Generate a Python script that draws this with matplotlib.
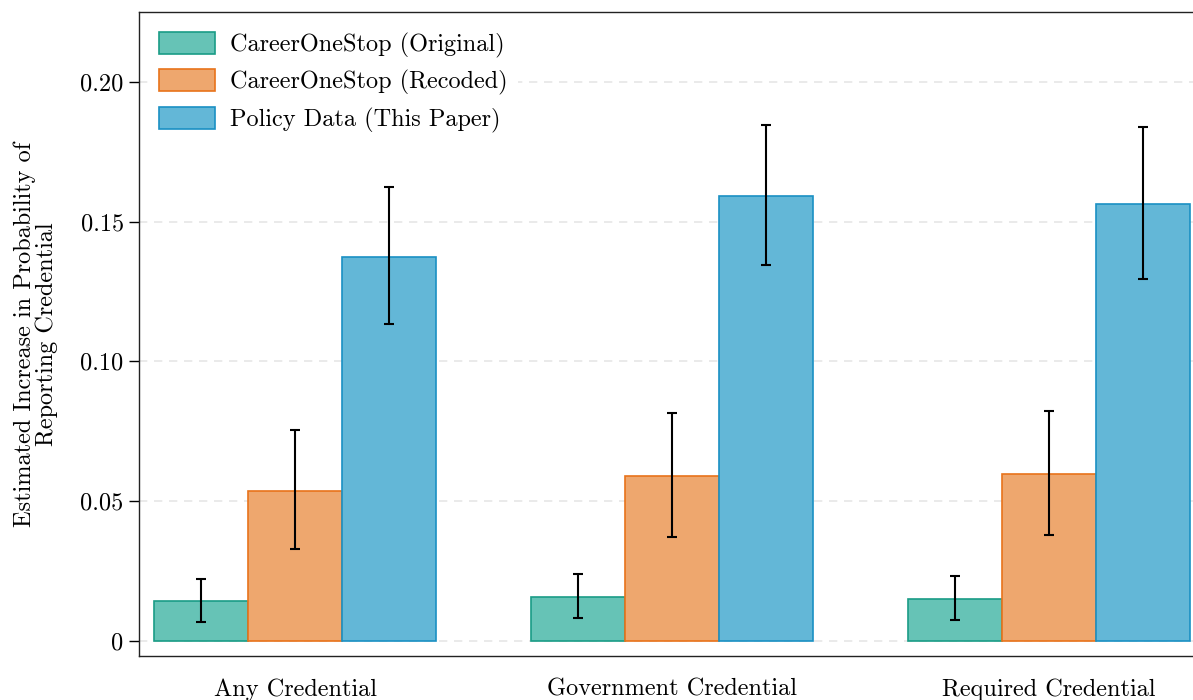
import matplotlib
matplotlib.use("Agg")
import matplotlib.pyplot as plt
import numpy as np

plt.rcParams['font.family'] = 'serif'
plt.rcParams['font.serif'] = ['cmr10', 'DejaVu Serif']
plt.rcParams['mathtext.fontset'] = 'cm'
plt.rcParams['axes.formatter.use_mathtext'] = True
plt.rcParams['axes.unicode_minus'] = False

categories = ["Any Credential", "Government Credential", "Required Credential"]
series_names = ["CareerOneStop (Original)", "CareerOneStop (Recoded)", "Policy Data (This Paper)"]

original = [0.0143, 0.0157, 0.0150]
original_lo = [0.0068, 0.0082, 0.0075]
original_hi = [0.0222, 0.0240, 0.0233]

recoded = [0.0537, 0.0590, 0.0597]
recoded_lo = [0.0329, 0.0372, 0.0379]
recoded_hi = [0.0755, 0.0816, 0.0823]

policy = [0.1374, 0.1592, 0.1563]
policy_lo = [0.1134, 0.1345, 0.1295]
policy_hi = [0.1624, 0.1846, 0.1839]

ytick_values = [0, 0.05, 0.10, 0.15, 0.20]
ytick_labels = ["0", "0.05", "0.10", "0.15", "0.20"]

fills = ["#66c3b6", "#eea76e", "#63b7d7"]
edges = ["#1a9c86", "#e8731b", "#1a90c3"]

FS = 17.5

fig = plt.figure(figsize=(11.93, 7.0), dpi=100)
ax = fig.add_axes([139/1193, 1 - 656/700, (1205 - 139)/1193, (656 - 12)/700])

x = np.arange(len(categories))
w = 0.25
data = [(original, original_lo, original_hi),
        (recoded, recoded_lo, recoded_hi),
        (policy, policy_lo, policy_hi)]
for i, (vals, lo, hi) in enumerate(data):
    pos = x + (i - 1) * w
    vals = np.array(vals); lo = np.array(lo); hi = np.array(hi)
    ax.bar(pos, vals, width=w, color=fills[i], edgecolor=edges[i], linewidth=1.2,
           label=series_names[i], zorder=2)
    ax.errorbar(pos, vals, yerr=[vals - lo, hi - vals], fmt='none', ecolor='black',
                elinewidth=1.5, capsize=3.5, capthick=1.5, zorder=3)

ax.set_xlim(-0.4138, 2.4138)
ax.set_ylim(-0.0054, 0.2250)
ax.set_yticks(ytick_values)
ax.set_yticklabels(ytick_labels)
ax.set_xticks(x)
ax.set_xticklabels(categories)
ax.tick_params(axis='x', length=0, pad=16, labelsize=FS)
ax.tick_params(axis='y', length=7, width=1, pad=4, labelsize=FS, direction='out')
ax.yaxis.grid(True, linestyle=(0, (5, 4)), color='#e6e6e6', linewidth=1.2, zorder=0)
ax.set_axisbelow(True)
for s in ax.spines.values():
    s.set_color('#222222')
    s.set_linewidth(1.0)

ax.set_ylabel("Estimated Increase in Probability of\nReporting Credential", fontsize=FS,
              linespacing=1.0, labelpad=16)

leg = ax.legend(loc='upper left', fontsize=FS, frameon=True, facecolor='white',
                edgecolor='none', framealpha=1, handlelength=2.3, handleheight=1.0,
                handletextpad=0.62, labelspacing=0.48, borderaxespad=0.37, borderpad=0.45)

fig.savefig("out.png", dpi=100)
